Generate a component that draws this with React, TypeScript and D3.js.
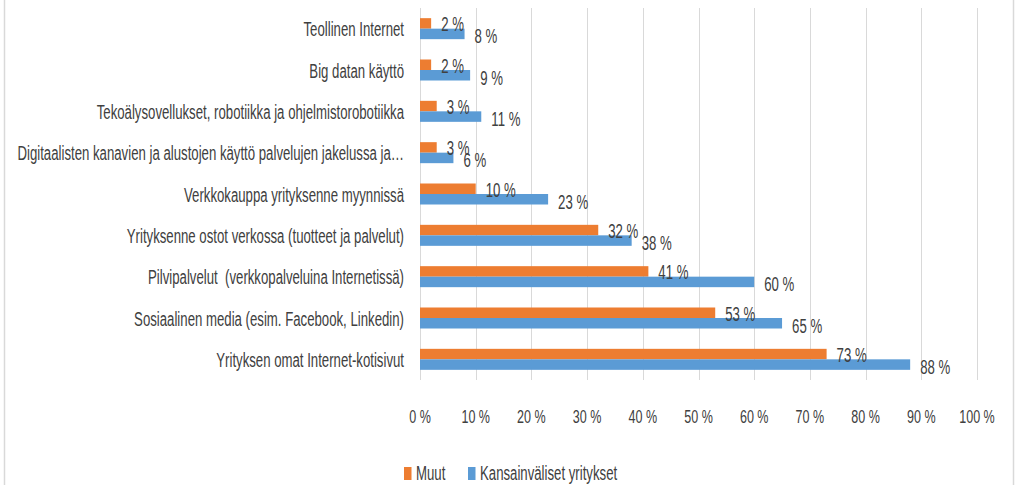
import React from "react";
import * as d3 from "d3";

const categories: string[] = [
  "Teollinen Internet",
  "Big datan käyttö",
  "Tekoälysovellukset, robotiikka ja ohjelmistorobotiikka",
  "Digitaalisten kanavien ja alustojen käyttö palvelujen jakelussa ja…",
  "Verkkokauppa yrityksenne myynnissä",
  "Yrityksenne ostot verkossa (tuotteet ja palvelut)",
  "Pilvipalvelut  (verkkopalveluina Internetissä)",
  "Sosiaalinen media (esim. Facebook, Linkedin)",
  "Yrityksen omat Internet-kotisivut",
];

const muut: number[] = [2, 2, 3, 3, 10, 32, 41, 53, 73];
const kansainvaliset: number[] = [8, 9, 11, 6, 23, 38, 60, 65, 88];

const seriesNames: string[] = ["Muut", "Kansainväliset yritykset"];
const seriesColors: string[] = ["#ED7D31", "#5B9BD5"];
const tickValues: number[] = [0, 10, 20, 30, 40, 50, 60, 70, 80, 90, 100];

const W = 1015;
const H = 485;
const SX = 0.66;
const FONT = "'Liberation Sans', Arial, sans-serif";
const TEXT = "#404040";

export default function App() {
  const x = d3.scaleLinear().domain([0, 100]).range([420, 977]);
  const y = d3.scaleBand<string>().domain(categories).range([8, 380]).padding(0);
  const groupH = 21;
  const sub = d3.scaleBand<string>().domain(seriesNames).range([0, groupH]).padding(0);
  const series = [muut, kansainvaliset];

  const txt = (
    key: string,
    tx: number,
    ty: number,
    s: string,
    anchor: "start" | "middle" | "end",
    size = 20
  ) => (
    <text
      key={key}
      transform={`translate(${tx},${ty}) scale(${SX},1)`}
      textAnchor={anchor}
      fontFamily={FONT}
      fontSize={size}
      fill={TEXT}
      style={{ whiteSpace: "pre" }}
    >
      {s}
    </text>
  );

  return (
    <svg
      width={W}
      height={H}
      style={{ position: "absolute", left: 0, top: 0, background: "#fff" }}
    >
      <rect x={0} y={0} width={W} height={H} fill="#fff" />
      <line x1={4.5} x2={4.5} y1={0} y2={H} stroke="#d9d9d9" strokeWidth={1.5} />
      <line x1={1013.5} x2={1013.5} y1={0} y2={H} stroke="#d9d9d9" strokeWidth={1.5} />

      {tickValues.map((t) => (
        <line
          key={"g" + t}
          x1={Math.round(x(t)) + 0.5}
          x2={Math.round(x(t)) + 0.5}
          y1={8}
          y2={380}
          stroke="#d9d9d9"
          strokeWidth={1}
        />
      ))}

      {categories.map((c, i) => {
        const bandTop = (y(c) as number) + (y.bandwidth() - groupH) / 2;
        return (
          <g key={"c" + i}>
            {series.map((vals, si) => {
              const yy = bandTop + (sub(seriesNames[si]) as number);
              return (
                <rect
                  key={"b" + si}
                  x={x(0)}
                  y={yy}
                  width={x(vals[i]) - x(0)}
                  height={sub.bandwidth()}
                  fill={seriesColors[si]}
                />
              );
            })}
          </g>
        );
      })}

      {categories.map((c, i) => {
        const bandTop = (y(c) as number) + (y.bandwidth() - groupH) / 2;
        return (
          <g key={"l" + i}>
            {series.map((vals, si) => {
              const cy = bandTop + (sub(seriesNames[si]) as number) + sub.bandwidth() / 2;
              return txt(
                "v" + si,
                x(vals[i]) + 10,
                cy + (si === 0 ? 8 : 9.5),
                `${vals[i]} %`,
                "start"
              );
            })}
          </g>
        );
      })}

      {categories.map((c, i) =>
        txt("cat" + i, 404, (y(c) as number) + y.bandwidth() / 2 + 7.5, c, "end")
      )}

      {tickValues.map((t) => txt("t" + t, x(t), 423, `${t} %`, "middle", 19))}

      <rect x={404} y={467} width={7.5} height={13} fill={seriesColors[0]} />
      {txt("lg0", 416, 480, seriesNames[0], "start")}
      <rect x={468} y={467} width={7.5} height={13} fill={seriesColors[1]} />
      {txt("lg1", 480, 480, seriesNames[1], "start")}
    </svg>
  );
}
